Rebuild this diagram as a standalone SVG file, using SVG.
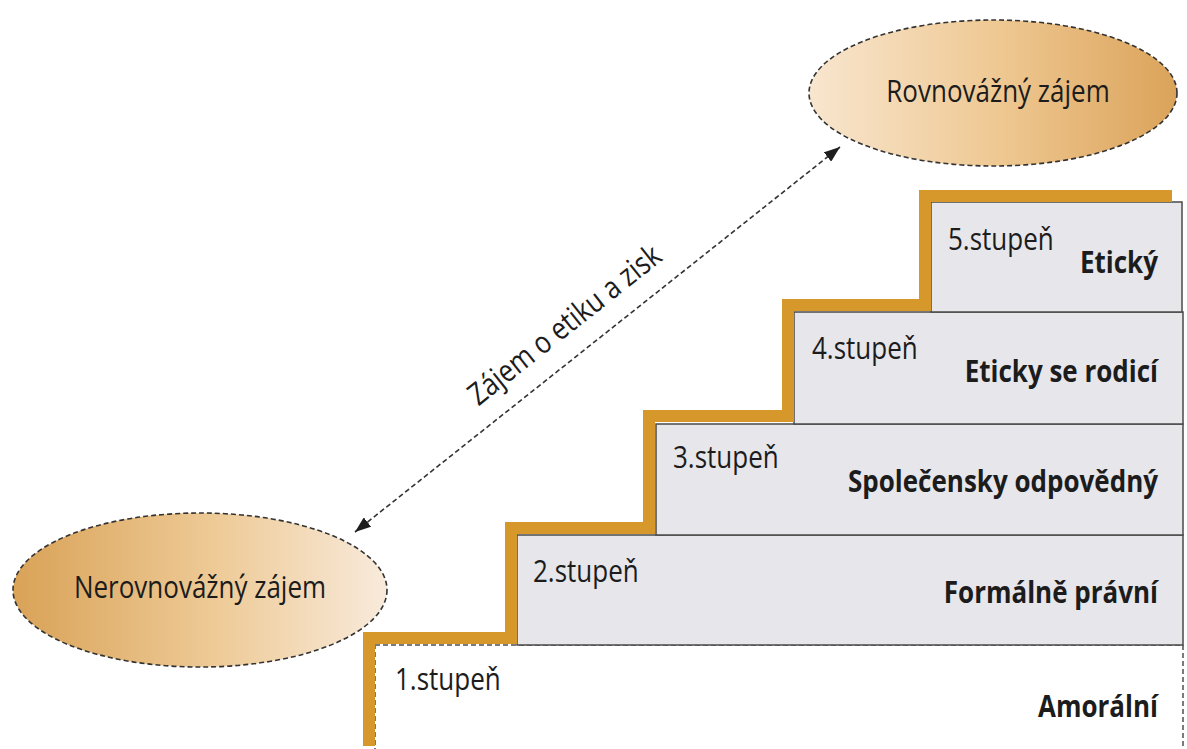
<svg xmlns="http://www.w3.org/2000/svg" width="1187" height="749" viewBox="0 0 1187 749">
  <defs>
    <linearGradient id="gLeft" x1="0" y1="0" x2="1" y2="0">
      <stop offset="0" stop-color="#d9a257"/>
      <stop offset="0.55" stop-color="#eecb98"/>
      <stop offset="1" stop-color="#f8eadb"/>
    </linearGradient>
    <linearGradient id="gRight" x1="0" y1="0" x2="1" y2="0">
      <stop offset="0" stop-color="#f8e6cf"/>
      <stop offset="0.5" stop-color="#efc994"/>
      <stop offset="1" stop-color="#dba35a"/>
    </linearGradient>
    <marker id="arrow" viewBox="0 0 16 12" refX="16" refY="6" markerWidth="16" markerHeight="12" markerUnits="userSpaceOnUse" orient="auto-start-reverse">
      <path d="M0,0 L16,6 L0,12 z" fill="#1e1e1e"/>
    </marker>
    <style>
      .ell { stroke: #333; stroke-width: 1.6; stroke-dasharray: 5 3; }
      .box { fill: #e6e6eb; stroke: #4a4a4a; stroke-width: 1.5; }
      .box1 { fill: #ffffff; stroke: #7a7a7a; stroke-width: 2; stroke-dasharray: 5 3; }
      .band { fill: none; stroke: #d6972b; stroke-width: 12; stroke-linejoin: miter; }
      .lbl { font-family: "Open Sans", "Noto Sans", "Liberation Sans", sans-serif; font-size: 26px; fill: #1c1c1c; }
      .bold { font-weight: bold; text-anchor: end; }
      .conn { stroke: #333; stroke-width: 1.6; stroke-dasharray: 5 3; fill: none; }
    </style>
  </defs>
  <rect width="1187" height="749" fill="#ffffff"/>

  <g id="node-nerovnovazny">
    <ellipse class="ell" cx="200" cy="590" rx="187" ry="77" fill="url(#gLeft)"/>
    <text class="lbl" text-anchor="middle" transform="translate(200,598) scale(1,1.18)">Nerovnovážný zájem</text>
  </g>

  <g id="node-rovnovazny">
    <ellipse class="ell" cx="993" cy="93" rx="184" ry="73" fill="url(#gRight)"/>
    <text class="lbl" text-anchor="middle" transform="translate(998,102) scale(1,1.18)">Rovnovážný zájem</text>
  </g>

  <g id="node-step1">
    <rect class="box1" x="375" y="645" width="808" height="110"/>
    <text class="lbl" transform="translate(395,690) scale(1,1.18)">1.stupeň</text>
    <text class="lbl bold" transform="translate(1158,717) scale(1,1.18)">Amorální</text>
  </g>

  <g id="node-step2">
    <rect class="box" x="517" y="535" width="666" height="110"/>
    <text class="lbl" transform="translate(533,582) scale(1,1.18)">2.stupeň</text>
    <text class="lbl bold" transform="translate(1158,603) scale(1,1.18)">Formálně právní</text>
  </g>

  <g id="node-step3">
    <rect class="box" x="656" y="424" width="527" height="111"/>
    <text class="lbl" transform="translate(673,468) scale(1,1.18)">3.stupeň</text>
    <text class="lbl bold" transform="translate(1158,492) scale(1,1.18)">Společensky odpovědný</text>
  </g>

  <g id="node-step4">
    <rect class="box" x="794" y="312" width="389" height="112"/>
    <text class="lbl" transform="translate(812,359) scale(1,1.18)">4.stupeň</text>
    <text class="lbl bold" transform="translate(1158,382) scale(1,1.18)">Eticky se rodicí</text>
  </g>

  <g id="node-step5">
    <rect class="box" x="931" y="202" width="251" height="110"/>
    <text class="lbl" transform="translate(948,250) scale(1,1.18)">5.stupeň</text>
    <text class="lbl bold" transform="translate(1158,273) scale(1,1.18)">Etický</text>
  </g>

  <g id="stair-edge">
    <path class="band" d="M369,746 V638 H511 V528 H649 V416 H788 V305 H925 V196 H1172"/>
  </g>

  <g id="connectors">
    <line class="conn" x1="355" y1="532" x2="840" y2="147" marker-start="url(#arrow)" marker-end="url(#arrow)"/>
    <text class="lbl" text-anchor="middle" transform="translate(571,333) rotate(-38.4) scale(1,1.18)">Zájem o etiku a zisk</text>
  </g>
</svg>
